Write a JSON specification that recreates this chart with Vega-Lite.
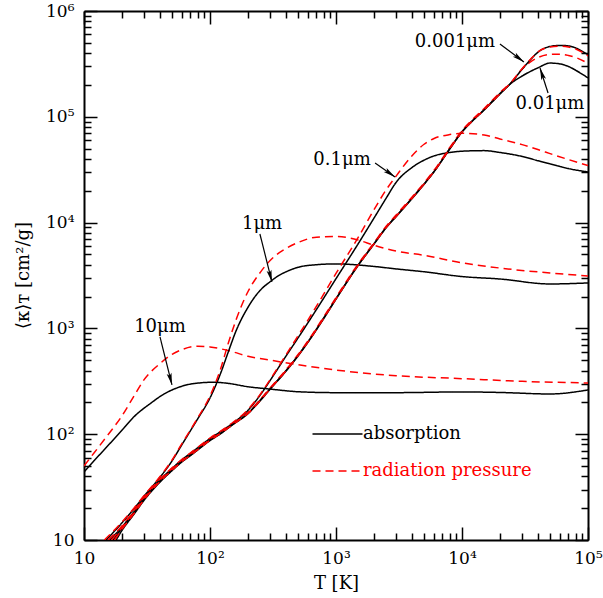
{
"$schema": "https://vega.github.io/schema/vega-lite/v6.json",
"width": 504, "height": 529,
"autosize": {"type": "none"},
"padding": {"left": 84, "top": 11, "right": 15, "bottom": 58},
"background": "white",
"config": {"view": {"stroke": null}, "axis": {"grid": false, "labelFlush": false, "labelOverlap": false, "tickColor": "black", "domainColor": "black", "labelColor": "black", "titleColor": "black"}, "legend": {"labelFont": "DejaVu Serif", "labelFontSize": 18}},
"datasets": {
"curves": [
{"size":"10μm","type":"absorption","T":10,"kappa":44},{"size":"10μm","type":"absorption","T":12,"kappa":56},{"size":"10μm","type":"absorption","T":14.4,"kappa":70.9},{"size":"10μm","type":"absorption","T":20,"kappa":109},{"size":"10μm","type":"absorption","T":24.9,"kappa":146},{"size":"10μm","type":"absorption","T":34,"kappa":197},{"size":"10μm","type":"absorption","T":43.2,"kappa":240},{"size":"10μm","type":"absorption","T":54.8,"kappa":274},{"size":"10μm","type":"absorption","T":70.5,"kappa":298},{"size":"10μm","type":"absorption","T":107,"kappa":310},{"size":"10μm","type":"absorption","T":140,"kappa":302},{"size":"10μm","type":"absorption","T":200,"kappa":281},{"size":"10μm","type":"absorption","T":300,"kappa":267},{"size":"10μm","type":"absorption","T":500,"kappa":252},{"size":"10μm","type":"absorption","T":1000,"kappa":247},{"size":"10μm","type":"absorption","T":3000,"kappa":247},{"size":"10μm","type":"absorption","T":10000,"kappa":251},{"size":"10μm","type":"absorption","T":20000,"kappa":248},{"size":"10μm","type":"absorption","T":50000,"kappa":240},{"size":"10μm","type":"absorption","T":100000,"kappa":262},
{"size":"10μm","type":"radiation pressure","T":10,"kappa":50.1},{"size":"10μm","type":"radiation pressure","T":12,"kappa":66.4},{"size":"10μm","type":"radiation pressure","T":15,"kappa":93.8},{"size":"10μm","type":"radiation pressure","T":20,"kappa":149},{"size":"10μm","type":"radiation pressure","T":25,"kappa":231},{"size":"10μm","type":"radiation pressure","T":30,"kappa":328},{"size":"10μm","type":"radiation pressure","T":40,"kappa":464},{"size":"10μm","type":"radiation pressure","T":50,"kappa":569},{"size":"10μm","type":"radiation pressure","T":60,"kappa":631},{"size":"10μm","type":"radiation pressure","T":80,"kappa":679},{"size":"10μm","type":"radiation pressure","T":100,"kappa":668},{"size":"10μm","type":"radiation pressure","T":150,"kappa":603},{"size":"10μm","type":"radiation pressure","T":200,"kappa":545},{"size":"10μm","type":"radiation pressure","T":300,"kappa":501},{"size":"10μm","type":"radiation pressure","T":500,"kappa":454},{"size":"10μm","type":"radiation pressure","T":1000,"kappa":404},{"size":"10μm","type":"radiation pressure","T":3000,"kappa":357},{"size":"10μm","type":"radiation pressure","T":10000,"kappa":335},{"size":"10μm","type":"radiation pressure","T":30000,"kappa":316},{"size":"10μm","type":"radiation pressure","T":100000,"kappa":305},
{"size":"1μm","type":"absorption","T":15,"kappa":10},{"size":"1μm","type":"absorption","T":20,"kappa":14.5},{"size":"1μm","type":"absorption","T":25,"kappa":19.8},{"size":"1μm","type":"absorption","T":30,"kappa":26},{"size":"1μm","type":"absorption","T":40,"kappa":39},{"size":"1μm","type":"absorption","T":50,"kappa":56},{"size":"1μm","type":"absorption","T":60,"kappa":80},{"size":"1μm","type":"absorption","T":70,"kappa":108},{"size":"1μm","type":"absorption","T":80,"kappa":140},{"size":"1μm","type":"absorption","T":100,"kappa":220},{"size":"1μm","type":"absorption","T":120,"kappa":363},{"size":"1μm","type":"absorption","T":140,"kappa":604},{"size":"1μm","type":"absorption","T":160,"kappa":931},{"size":"1μm","type":"absorption","T":200,"kappa":1580},{"size":"1μm","type":"absorption","T":250,"kappa":2290},{"size":"1μm","type":"absorption","T":300,"kappa":2760},{"size":"1μm","type":"absorption","T":350,"kappa":3150},{"size":"1μm","type":"absorption","T":400,"kappa":3420},{"size":"1μm","type":"absorption","T":500,"kappa":3780},{"size":"1μm","type":"absorption","T":700,"kappa":4000},{"size":"1μm","type":"absorption","T":1000,"kappa":4070},{"size":"1μm","type":"absorption","T":2000,"kappa":3850},{"size":"1μm","type":"absorption","T":3000,"kappa":3650},{"size":"1μm","type":"absorption","T":5000,"kappa":3430},{"size":"1μm","type":"absorption","T":10000,"kappa":3090},{"size":"1μm","type":"absorption","T":20000,"kappa":2930},{"size":"1μm","type":"absorption","T":50000,"kappa":2630},{"size":"1μm","type":"absorption","T":100000,"kappa":2690},
{"size":"1μm","type":"radiation pressure","T":14.5,"kappa":10},{"size":"1μm","type":"radiation pressure","T":20,"kappa":14.8},{"size":"1μm","type":"radiation pressure","T":25,"kappa":20.1},{"size":"1μm","type":"radiation pressure","T":30,"kappa":26.4},{"size":"1μm","type":"radiation pressure","T":40,"kappa":39.6},{"size":"1μm","type":"radiation pressure","T":50,"kappa":57},{"size":"1μm","type":"radiation pressure","T":60,"kappa":82},{"size":"1μm","type":"radiation pressure","T":70,"kappa":110},{"size":"1μm","type":"radiation pressure","T":80,"kappa":143},{"size":"1μm","type":"radiation pressure","T":100,"kappa":230},{"size":"1μm","type":"radiation pressure","T":120,"kappa":398},{"size":"1μm","type":"radiation pressure","T":140,"kappa":731},{"size":"1μm","type":"radiation pressure","T":160,"kappa":1180},{"size":"1μm","type":"radiation pressure","T":200,"kappa":2220},{"size":"1μm","type":"radiation pressure","T":250,"kappa":3370},{"size":"1μm","type":"radiation pressure","T":300,"kappa":4390},{"size":"1μm","type":"radiation pressure","T":400,"kappa":5680},{"size":"1μm","type":"radiation pressure","T":500,"kappa":6490},{"size":"1μm","type":"radiation pressure","T":700,"kappa":7280},{"size":"1μm","type":"radiation pressure","T":1000,"kappa":7410},{"size":"1μm","type":"radiation pressure","T":1500,"kappa":6840},{"size":"1μm","type":"radiation pressure","T":2000,"kappa":6110},{"size":"1μm","type":"radiation pressure","T":3000,"kappa":5380},{"size":"1μm","type":"radiation pressure","T":5000,"kappa":4900},{"size":"1μm","type":"radiation pressure","T":10000,"kappa":4170},{"size":"1μm","type":"radiation pressure","T":20000,"kappa":3720},{"size":"1μm","type":"radiation pressure","T":50000,"kappa":3340},{"size":"1μm","type":"radiation pressure","T":100000,"kappa":3130},
{"size":"0.1μm","type":"absorption","T":16,"kappa":10},{"size":"0.1μm","type":"absorption","T":20,"kappa":13.3},{"size":"0.1μm","type":"absorption","T":25,"kappa":18.6},{"size":"0.1μm","type":"absorption","T":30,"kappa":25},{"size":"0.1μm","type":"absorption","T":40,"kappa":37},{"size":"0.1μm","type":"absorption","T":50,"kappa":47.5},{"size":"0.1μm","type":"absorption","T":60,"kappa":57.5},{"size":"0.1μm","type":"absorption","T":70,"kappa":66},{"size":"0.1μm","type":"absorption","T":80,"kappa":74.5},{"size":"0.1μm","type":"absorption","T":100,"kappa":91},{"size":"0.1μm","type":"absorption","T":120,"kappa":105},{"size":"0.1μm","type":"absorption","T":150,"kappa":126},{"size":"0.1μm","type":"absorption","T":200,"kappa":168},{"size":"0.1μm","type":"absorption","T":250,"kappa":234},{"size":"0.1μm","type":"absorption","T":300,"kappa":322},{"size":"0.1μm","type":"absorption","T":400,"kappa":545},{"size":"0.1μm","type":"absorption","T":500,"kappa":813},{"size":"0.1μm","type":"absorption","T":700,"kappa":1510},{"size":"0.1μm","type":"absorption","T":1000,"kappa":2950},{"size":"0.1μm","type":"absorption","T":1500,"kappa":6310},{"size":"0.1μm","type":"absorption","T":2000,"kappa":11000},{"size":"0.1μm","type":"absorption","T":2500,"kappa":17000},{"size":"0.1μm","type":"absorption","T":3000,"kappa":24000},{"size":"0.1μm","type":"absorption","T":4000,"kappa":33100},{"size":"0.1μm","type":"absorption","T":5000,"kappa":38900},{"size":"0.1μm","type":"absorption","T":6000,"kappa":42700},{"size":"0.1μm","type":"absorption","T":8000,"kappa":46000},{"size":"0.1μm","type":"absorption","T":10000,"kappa":47300},{"size":"0.1μm","type":"absorption","T":15000,"kappa":47900},{"size":"0.1μm","type":"absorption","T":20000,"kappa":46000},{"size":"0.1μm","type":"absorption","T":30000,"kappa":42200},{"size":"0.1μm","type":"absorption","T":40000,"kappa":38500},{"size":"0.1μm","type":"absorption","T":50000,"kappa":35900},{"size":"0.1μm","type":"absorption","T":70000,"kappa":32400},{"size":"0.1μm","type":"absorption","T":100000,"kappa":30100},
{"size":"0.1μm","type":"radiation pressure","T":15.5,"kappa":10},{"size":"0.1μm","type":"radiation pressure","T":20,"kappa":13.6},{"size":"0.1μm","type":"radiation pressure","T":25,"kappa":18.9},{"size":"0.1μm","type":"radiation pressure","T":30,"kappa":25.4},{"size":"0.1μm","type":"radiation pressure","T":40,"kappa":37.5},{"size":"0.1μm","type":"radiation pressure","T":50,"kappa":48},{"size":"0.1μm","type":"radiation pressure","T":60,"kappa":58},{"size":"0.1μm","type":"radiation pressure","T":70,"kappa":66.6},{"size":"0.1μm","type":"radiation pressure","T":80,"kappa":75.2},{"size":"0.1μm","type":"radiation pressure","T":100,"kappa":92},{"size":"0.1μm","type":"radiation pressure","T":120,"kappa":106},{"size":"0.1μm","type":"radiation pressure","T":150,"kappa":127.5},{"size":"0.1μm","type":"radiation pressure","T":200,"kappa":171},{"size":"0.1μm","type":"radiation pressure","T":250,"kappa":238},{"size":"0.1μm","type":"radiation pressure","T":300,"kappa":328},{"size":"0.1μm","type":"radiation pressure","T":400,"kappa":560},{"size":"0.1μm","type":"radiation pressure","T":500,"kappa":851},{"size":"0.1μm","type":"radiation pressure","T":700,"kappa":1620},{"size":"0.1μm","type":"radiation pressure","T":1000,"kappa":3310},{"size":"0.1μm","type":"radiation pressure","T":1500,"kappa":7240},{"size":"0.1μm","type":"radiation pressure","T":2000,"kappa":13200},{"size":"0.1μm","type":"radiation pressure","T":2500,"kappa":20400},{"size":"0.1μm","type":"radiation pressure","T":3000,"kappa":27500},{"size":"0.1μm","type":"radiation pressure","T":4000,"kappa":42700},{"size":"0.1μm","type":"radiation pressure","T":5000,"kappa":55000},{"size":"0.1μm","type":"radiation pressure","T":6000,"kappa":62400},{"size":"0.1μm","type":"radiation pressure","T":8000,"kappa":67900},{"size":"0.1μm","type":"radiation pressure","T":10000,"kappa":69800},{"size":"0.1μm","type":"radiation pressure","T":15000,"kappa":67300},{"size":"0.1μm","type":"radiation pressure","T":20000,"kappa":61700},{"size":"0.1μm","type":"radiation pressure","T":30000,"kappa":54600},{"size":"0.1μm","type":"radiation pressure","T":40000,"kappa":49000},{"size":"0.1μm","type":"radiation pressure","T":50000,"kappa":44900},{"size":"0.1μm","type":"radiation pressure","T":70000,"kappa":39400},{"size":"0.1μm","type":"radiation pressure","T":100000,"kappa":34700},
{"size":"0.01μm","type":"absorption","T":17,"kappa":10},{"size":"0.01μm","type":"absorption","T":20,"kappa":12.9},{"size":"0.01μm","type":"absorption","T":25,"kappa":18.1},{"size":"0.01μm","type":"absorption","T":30,"kappa":24.3},{"size":"0.01μm","type":"absorption","T":40,"kappa":35.8},{"size":"0.01μm","type":"absorption","T":50,"kappa":46},{"size":"0.01μm","type":"absorption","T":60,"kappa":55.6},{"size":"0.01μm","type":"absorption","T":70,"kappa":63.8},{"size":"0.01μm","type":"absorption","T":80,"kappa":72},{"size":"0.01μm","type":"absorption","T":100,"kappa":88.1},{"size":"0.01μm","type":"absorption","T":120,"kappa":101},{"size":"0.01μm","type":"absorption","T":150,"kappa":123},{"size":"0.01μm","type":"absorption","T":200,"kappa":158},{"size":"0.01μm","type":"absorption","T":250,"kappa":210},{"size":"0.01μm","type":"absorption","T":300,"kappa":269},{"size":"0.01μm","type":"absorption","T":400,"kappa":398},{"size":"0.01μm","type":"absorption","T":500,"kappa":556},{"size":"0.01μm","type":"absorption","T":600,"kappa":750},{"size":"0.01μm","type":"absorption","T":800,"kappa":1260},{"size":"0.01μm","type":"absorption","T":1000,"kappa":1910},{"size":"0.01μm","type":"absorption","T":1500,"kappa":3980},{"size":"0.01μm","type":"absorption","T":2000,"kappa":6310},{"size":"0.01μm","type":"absorption","T":2500,"kappa":9020},{"size":"0.01μm","type":"absorption","T":3000,"kappa":11500},{"size":"0.01μm","type":"absorption","T":4000,"kappa":17000},{"size":"0.01μm","type":"absorption","T":5000,"kappa":23200},{"size":"0.01μm","type":"absorption","T":6000,"kappa":30500},{"size":"0.01μm","type":"absorption","T":8000,"kappa":50100},{"size":"0.01μm","type":"absorption","T":10000,"kappa":72400},{"size":"0.01μm","type":"absorption","T":12000,"kappa":91200},{"size":"0.01μm","type":"absorption","T":15000,"kappa":117000},{"size":"0.01μm","type":"absorption","T":20000,"kappa":166000},{"size":"0.01μm","type":"absorption","T":25000,"kappa":211000},{"size":"0.01μm","type":"absorption","T":30000,"kappa":243000},{"size":"0.01μm","type":"absorption","T":40000,"kappa":290000},{"size":"0.01μm","type":"absorption","T":50000,"kappa":322000},{"size":"0.01μm","type":"absorption","T":60000,"kappa":316000},{"size":"0.01μm","type":"absorption","T":70000,"kappa":299000},{"size":"0.01μm","type":"absorption","T":80000,"kappa":275000},{"size":"0.01μm","type":"absorption","T":100000,"kappa":233000},
{"size":"0.01μm","type":"radiation pressure","T":16.5,"kappa":10},{"size":"0.01μm","type":"radiation pressure","T":20,"kappa":13.1},{"size":"0.01μm","type":"radiation pressure","T":25,"kappa":18.4},{"size":"0.01μm","type":"radiation pressure","T":30,"kappa":24.7},{"size":"0.01μm","type":"radiation pressure","T":40,"kappa":36.3},{"size":"0.01μm","type":"radiation pressure","T":50,"kappa":46.5},{"size":"0.01μm","type":"radiation pressure","T":60,"kappa":56.1},{"size":"0.01μm","type":"radiation pressure","T":70,"kappa":64.4},{"size":"0.01μm","type":"radiation pressure","T":80,"kappa":72.7},{"size":"0.01μm","type":"radiation pressure","T":100,"kappa":89},{"size":"0.01μm","type":"radiation pressure","T":120,"kappa":102},{"size":"0.01μm","type":"radiation pressure","T":150,"kappa":124},{"size":"0.01μm","type":"radiation pressure","T":200,"kappa":160},{"size":"0.01μm","type":"radiation pressure","T":250,"kappa":213},{"size":"0.01μm","type":"radiation pressure","T":300,"kappa":274},{"size":"0.01μm","type":"radiation pressure","T":400,"kappa":405},{"size":"0.01μm","type":"radiation pressure","T":500,"kappa":566},{"size":"0.01μm","type":"radiation pressure","T":600,"kappa":764},{"size":"0.01μm","type":"radiation pressure","T":800,"kappa":1290},{"size":"0.01μm","type":"radiation pressure","T":1000,"kappa":1960},{"size":"0.01μm","type":"radiation pressure","T":1500,"kappa":4070},{"size":"0.01μm","type":"radiation pressure","T":2000,"kappa":6450},{"size":"0.01μm","type":"radiation pressure","T":2500,"kappa":9230},{"size":"0.01μm","type":"radiation pressure","T":3000,"kappa":11800},{"size":"0.01μm","type":"radiation pressure","T":4000,"kappa":17400},{"size":"0.01μm","type":"radiation pressure","T":5000,"kappa":23700},{"size":"0.01μm","type":"radiation pressure","T":6000,"kappa":31200},{"size":"0.01μm","type":"radiation pressure","T":8000,"kappa":51300},{"size":"0.01μm","type":"radiation pressure","T":10000,"kappa":74100},{"size":"0.01μm","type":"radiation pressure","T":12000,"kappa":93300},{"size":"0.01μm","type":"radiation pressure","T":15000,"kappa":120000},{"size":"0.01μm","type":"radiation pressure","T":20000,"kappa":169000},{"size":"0.01μm","type":"radiation pressure","T":25000,"kappa":216000},{"size":"0.01μm","type":"radiation pressure","T":30000,"kappa":282000},{"size":"0.01μm","type":"radiation pressure","T":35000,"kappa":331000},{"size":"0.01μm","type":"radiation pressure","T":40000,"kappa":363000},{"size":"0.01μm","type":"radiation pressure","T":50000,"kappa":389000},{"size":"0.01μm","type":"radiation pressure","T":60000,"kappa":391000},{"size":"0.01μm","type":"radiation pressure","T":70000,"kappa":380000},{"size":"0.01μm","type":"radiation pressure","T":80000,"kappa":363000},{"size":"0.01μm","type":"radiation pressure","T":100000,"kappa":320000},
{"size":"0.001μm","type":"absorption","T":18,"kappa":10},{"size":"0.001μm","type":"absorption","T":20,"kappa":12.3},{"size":"0.001μm","type":"absorption","T":25,"kappa":17.6},{"size":"0.001μm","type":"absorption","T":30,"kappa":23.8},{"size":"0.001μm","type":"absorption","T":40,"kappa":35.2},{"size":"0.001μm","type":"absorption","T":50,"kappa":45.3},{"size":"0.001μm","type":"absorption","T":60,"kappa":54.8},{"size":"0.001μm","type":"absorption","T":70,"kappa":62.8},{"size":"0.001μm","type":"absorption","T":80,"kappa":71},{"size":"0.001μm","type":"absorption","T":100,"kappa":87.1},{"size":"0.001μm","type":"absorption","T":120,"kappa":100},{"size":"0.001μm","type":"absorption","T":150,"kappa":122},{"size":"0.001μm","type":"absorption","T":200,"kappa":156},{"size":"0.001μm","type":"absorption","T":250,"kappa":207},{"size":"0.001μm","type":"absorption","T":300,"kappa":266},{"size":"0.001μm","type":"absorption","T":400,"kappa":393},{"size":"0.001μm","type":"absorption","T":500,"kappa":549},{"size":"0.001μm","type":"absorption","T":600,"kappa":741},{"size":"0.001μm","type":"absorption","T":800,"kappa":1240},{"size":"0.001μm","type":"absorption","T":1000,"kappa":1890},{"size":"0.001μm","type":"absorption","T":1500,"kappa":3940},{"size":"0.001μm","type":"absorption","T":2000,"kappa":6250},{"size":"0.001μm","type":"absorption","T":2500,"kappa":8930},{"size":"0.001μm","type":"absorption","T":3000,"kappa":11400},{"size":"0.001μm","type":"absorption","T":4000,"kappa":16800},{"size":"0.001μm","type":"absorption","T":5000,"kappa":23000},{"size":"0.001μm","type":"absorption","T":6000,"kappa":30200},{"size":"0.001μm","type":"absorption","T":8000,"kappa":49600},{"size":"0.001μm","type":"absorption","T":10000,"kappa":71700},{"size":"0.001μm","type":"absorption","T":12000,"kappa":90300},{"size":"0.001μm","type":"absorption","T":15000,"kappa":116000},{"size":"0.001μm","type":"absorption","T":20000,"kappa":164000},{"size":"0.001μm","type":"absorption","T":25000,"kappa":215000},{"size":"0.001μm","type":"absorption","T":30000,"kappa":282000},{"size":"0.001μm","type":"absorption","T":35000,"kappa":347000},{"size":"0.001μm","type":"absorption","T":40000,"kappa":407000},{"size":"0.001μm","type":"absorption","T":50000,"kappa":462000},{"size":"0.001μm","type":"absorption","T":60000,"kappa":473000},{"size":"0.001μm","type":"absorption","T":70000,"kappa":468000},{"size":"0.001μm","type":"absorption","T":80000,"kappa":447000},{"size":"0.001μm","type":"absorption","T":100000,"kappa":385000},
{"size":"0.001μm","type":"radiation pressure","T":17.5,"kappa":10},{"size":"0.001μm","type":"radiation pressure","T":20,"kappa":12.6},{"size":"0.001μm","type":"radiation pressure","T":25,"kappa":17.9},{"size":"0.001μm","type":"radiation pressure","T":30,"kappa":24.1},{"size":"0.001μm","type":"radiation pressure","T":40,"kappa":35.6},{"size":"0.001μm","type":"radiation pressure","T":50,"kappa":45.7},{"size":"0.001μm","type":"radiation pressure","T":60,"kappa":55.2},{"size":"0.001μm","type":"radiation pressure","T":70,"kappa":63.2},{"size":"0.001μm","type":"radiation pressure","T":80,"kappa":71.4},{"size":"0.001μm","type":"radiation pressure","T":100,"kappa":87.6},{"size":"0.001μm","type":"radiation pressure","T":120,"kappa":100.5},{"size":"0.001μm","type":"radiation pressure","T":150,"kappa":122.5},{"size":"0.001μm","type":"radiation pressure","T":200,"kappa":157},{"size":"0.001μm","type":"radiation pressure","T":250,"kappa":208},{"size":"0.001μm","type":"radiation pressure","T":300,"kappa":268},{"size":"0.001μm","type":"radiation pressure","T":400,"kappa":396},{"size":"0.001μm","type":"radiation pressure","T":500,"kappa":553},{"size":"0.001μm","type":"radiation pressure","T":600,"kappa":746},{"size":"0.001μm","type":"radiation pressure","T":800,"kappa":1250},{"size":"0.001μm","type":"radiation pressure","T":1000,"kappa":1900},{"size":"0.001μm","type":"radiation pressure","T":1500,"kappa":3960},{"size":"0.001μm","type":"radiation pressure","T":2000,"kappa":6280},{"size":"0.001μm","type":"radiation pressure","T":2500,"kappa":8980},{"size":"0.001μm","type":"radiation pressure","T":3000,"kappa":11450},{"size":"0.001μm","type":"radiation pressure","T":4000,"kappa":16900},{"size":"0.001μm","type":"radiation pressure","T":5000,"kappa":23100},{"size":"0.001μm","type":"radiation pressure","T":6000,"kappa":30400},{"size":"0.001μm","type":"radiation pressure","T":8000,"kappa":49900},{"size":"0.001μm","type":"radiation pressure","T":10000,"kappa":72000},{"size":"0.001μm","type":"radiation pressure","T":12000,"kappa":90800},{"size":"0.001μm","type":"radiation pressure","T":15000,"kappa":116500},{"size":"0.001μm","type":"radiation pressure","T":20000,"kappa":165000},{"size":"0.001μm","type":"radiation pressure","T":25000,"kappa":217000},{"size":"0.001μm","type":"radiation pressure","T":30000,"kappa":285000},{"size":"0.001μm","type":"radiation pressure","T":35000,"kappa":350000},{"size":"0.001μm","type":"radiation pressure","T":40000,"kappa":410000},{"size":"0.001μm","type":"radiation pressure","T":50000,"kappa":457000},{"size":"0.001μm","type":"radiation pressure","T":60000,"kappa":466000},{"size":"0.001μm","type":"radiation pressure","T":70000,"kappa":457000},{"size":"0.001μm","type":"radiation pressure","T":80000,"kappa":437000},{"size":"0.001μm","type":"radiation pressure","T":100000,"kappa":376000}
],
"notes": [
{"label":"10μm","T":40.1,"kappa":1030},
{"label":"1μm","T":259,"kappa":9710},
{"label":"0.1μm","T":1117,"kappa":39100},
{"label":"0.001μm","T":8790,"kappa":509000},
{"label":"0.01μm","T":49900,"kappa":132000}
],
"arrows": [
{"label":"10μm","T":40.1,"kappa":830,"T2":49.9,"kappa2":292},
{"label":"1μm","T":249,"kappa":7800,"T2":310,"kappa2":2750},
{"label":"0.1μm","T":2042,"kappa":36600,"T2":2940,"kappa2":27000},
{"label":"0.001μm","T":20000,"kappa":488000,"T2":31000,"kappa2":330000},
{"label":"0.01μm","T":48200,"kappa":168000,"T2":41600,"kappa2":289000}
]
},
"resolve": {"axis": {"x": "independent", "y": "independent"}},
"layer": [
{
"data": {"name": "curves"},
"mark": {"type": "line", "strokeWidth": 1.5, "interpolate": "monotone", "clip": true},
"encoding": {
"x": {"field": "T", "type": "quantitative", "scale": {"type": "log", "domain": [10, 100000], "nice": false},
 "axis": {"orient": "bottom", "values": [10, 100, 1000, 10000, 100000], "ticks": false, "domain": true, "domainWidth": 2,
  "labelExpr": "datum.value < 50 ? '10' : datum.value < 500 ? '10²' : datum.value < 5000 ? '10³' : datum.value < 50000 ? '10⁴' : '10⁵'",
  "labelFont": "DejaVu Serif", "labelFontSize": 17, "labelPadding": 10,
  "title": "T [K]", "titleFont": "DejaVu Serif", "titleFontSize": 18, "titleFontWeight": "normal", "titleY": 43, "titleBaseline": "middle"}},
"y": {"field": "kappa", "type": "quantitative", "scale": {"type": "log", "domain": [10, 1000000], "nice": false},
 "axis": {"orient": "left", "values": [10, 100, 1000, 10000, 100000, 1000000], "ticks": false, "domain": true, "domainWidth": 2,
  "labelExpr": "datum.value < 50 ? '10' : datum.value < 500 ? '10²' : datum.value < 5000 ? '10³' : datum.value < 50000 ? '10⁴' : datum.value < 500000 ? '10⁵' : '10⁶'",
  "labelFont": "DejaVu Serif", "labelFontSize": 17, "labelPadding": 10,
  "title": "⟨κ⟩ᴛ [cm²/g]", "titleFont": "DejaVu Serif", "titleFontSize": 18, "titleFontWeight": "normal", "titleX": -61, "titleY": 264, "titleBaseline": "middle", "titleAngle": 270}},
"color": {"field": "type", "type": "nominal", "scale": {"domain": ["absorption", "radiation pressure"], "range": ["#000000", "#ff0000"]},
 "legend": {"orient": "none", "legendX": 259, "legendY": 414, "title": null, "symbolType": "M-15.8,0H4.2", "symbolSize": 25, "symbolStrokeWidth": 1.5, "labelFont": "DejaVu Serif", "labelFontSize": 18, "labelOffset": 2, "labelLimit": 400, "rowPadding": 19, "padding": 0,
  "encode": {"labels": {"update": {"font": {"value": "DejaVu Serif"}, "fontSize": {"value": 18}, "fill": {"signal": "datum.value === 'radiation pressure' ? '#ff0000' : '#000000'"}}}}}},
"strokeDash": {"field": "type", "type": "nominal", "scale": {"domain": ["absorption", "radiation pressure"], "range": [[1, 0], [8, 5]]},
 "legend": {"orient": "none", "legendX": 259, "legendY": 414, "title": null, "symbolType": "M-15.8,0H4.2", "symbolSize": 25, "symbolStrokeWidth": 1.5, "labelFont": "DejaVu Serif", "labelFontSize": 18, "labelOffset": 2, "labelLimit": 400, "rowPadding": 19, "padding": 0,
  "encode": {"labels": {"update": {"font": {"value": "DejaVu Serif"}, "fontSize": {"value": 18}, "fill": {"signal": "datum.value === 'radiation pressure' ? '#ff0000' : '#000000'"}}}}}},
"detail": {"field": "size"}
}
},
{
"data": {"name": "notes"},
"mark": {"type": "point", "opacity": 0},
"encoding": {
"x": {"field": "T", "type": "quantitative", "scale": {"type": "log", "domain": [10, 100000], "nice": false},
 "axis": {"orient": "bottom", "values": [10, 100, 1000, 10000, 100000], "labels": false, "domain": false, "ticks": true, "tickSize": -13, "tickWidth": 1.5, "title": null}},
"y": {"field": "kappa", "type": "quantitative", "scale": {"type": "log", "domain": [10, 1000000], "nice": false},
 "axis": {"orient": "left", "values": [10, 100, 1000, 10000, 100000, 1000000], "labels": false, "domain": false, "ticks": true, "tickSize": -13, "tickWidth": 1.5, "title": null}}
}
},
{
"data": {"name": "notes"},
"mark": {"type": "point", "opacity": 0},
"encoding": {
"x": {"field": "T", "type": "quantitative", "scale": {"type": "log", "domain": [10, 100000], "nice": false},
 "axis": {"orient": "bottom", "values": [20,30,40,50,60,70,80,90,200,300,400,500,600,700,800,900,2000,3000,4000,5000,6000,7000,8000,9000,20000,30000,40000,50000,60000,70000,80000,90000], "labels": false, "domain": false, "ticks": true, "tickSize": -7, "tickWidth": 1.5, "title": null}},
"y": {"field": "kappa", "type": "quantitative", "scale": {"type": "log", "domain": [10, 1000000], "nice": false},
 "axis": {"orient": "left", "values": [20,30,40,50,60,70,80,90,200,300,400,500,600,700,800,900,2000,3000,4000,5000,6000,7000,8000,9000,20000,30000,40000,50000,60000,70000,80000,90000,200000,300000,400000,500000,600000,700000,800000,900000], "labels": false, "domain": false, "ticks": true, "tickSize": -7, "tickWidth": 1.5, "title": null}}
}
},
{
"data": {"name": "notes"},
"mark": {"type": "point", "opacity": 0},
"encoding": {
"x": {"field": "T", "type": "quantitative", "scale": {"type": "log", "domain": [10, 100000], "nice": false},
 "axis": {"orient": "top", "values": [10, 100, 1000, 10000, 100000], "labels": false, "domain": true, "domainWidth": 2, "ticks": true, "tickSize": -13, "tickWidth": 1.5, "title": null}},
"y": {"field": "kappa", "type": "quantitative", "scale": {"type": "log", "domain": [10, 1000000], "nice": false},
 "axis": {"orient": "right", "values": [10, 100, 1000, 10000, 100000, 1000000], "labels": false, "domain": true, "domainWidth": 2, "ticks": true, "tickSize": -13, "tickWidth": 1.5, "title": null}}
}
},
{
"data": {"name": "notes"},
"mark": {"type": "point", "opacity": 0},
"encoding": {
"x": {"field": "T", "type": "quantitative", "scale": {"type": "log", "domain": [10, 100000], "nice": false},
 "axis": {"orient": "top", "values": [20,30,40,50,60,70,80,90,200,300,400,500,600,700,800,900,2000,3000,4000,5000,6000,7000,8000,9000,20000,30000,40000,50000,60000,70000,80000,90000], "labels": false, "domain": false, "ticks": true, "tickSize": -7, "tickWidth": 1.5, "title": null}},
"y": {"field": "kappa", "type": "quantitative", "scale": {"type": "log", "domain": [10, 1000000], "nice": false},
 "axis": {"orient": "right", "values": [20,30,40,50,60,70,80,90,200,300,400,500,600,700,800,900,2000,3000,4000,5000,6000,7000,8000,9000,20000,30000,40000,50000,60000,70000,80000,90000,200000,300000,400000,500000,600000,700000,800000,900000], "labels": false, "domain": false, "ticks": true, "tickSize": -7, "tickWidth": 1.5, "title": null}}
}
},
{
"data": {"name": "notes"},
"mark": {"type": "text", "font": "DejaVu Serif", "fontSize": 18, "color": "black", "align": "center", "baseline": "middle"},
"encoding": {
"x": {"field": "T", "type": "quantitative", "scale": {"type": "log", "domain": [10, 100000], "nice": false}, "axis": null},
"y": {"field": "kappa", "type": "quantitative", "scale": {"type": "log", "domain": [10, 1000000], "nice": false}, "axis": null},
"text": {"field": "label"}
}
},
{
"data": {"name": "arrows"},
"mark": {"type": "rule", "color": "black", "strokeWidth": 1.2},
"encoding": {
"x": {"field": "T", "type": "quantitative", "scale": {"type": "log", "domain": [10, 100000], "nice": false}, "axis": null},
"y": {"field": "kappa", "type": "quantitative", "scale": {"type": "log", "domain": [10, 1000000], "nice": false}, "axis": null},
"x2": {"field": "T2"},
"y2": {"field": "kappa2"}
}
},
{
"data": {"name": "arrows"},
"transform": [{"calculate": "atan2((log(datum.T2)-log(datum.T))/LN10*126, (log(datum.kappa2)-log(datum.kappa))/LN10*105.8)*180/PI", "as": "rot"}],
"mark": {"type": "point", "shape": "M0,0L-0.5,2.4L0,1.9L0.5,2.4Z", "filled": true, "color": "black", "size": 100, "opacity": 1, "strokeWidth": 0},
"encoding": {
"x": {"field": "T2", "type": "quantitative", "scale": {"type": "log", "domain": [10, 100000], "nice": false}, "axis": null},
"y": {"field": "kappa2", "type": "quantitative", "scale": {"type": "log", "domain": [10, 1000000], "nice": false}, "axis": null},
"angle": {"field": "rot", "type": "quantitative", "scale": null}
}
}
]
}
